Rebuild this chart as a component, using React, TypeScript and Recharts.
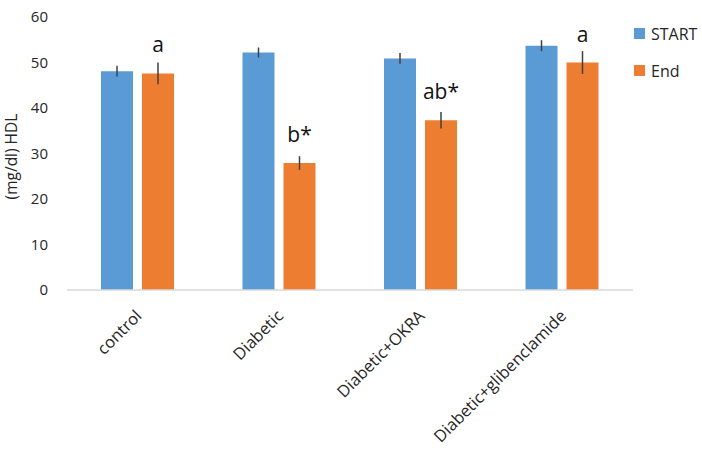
import React from "react";
import {
    BarChart,
    Bar,
    XAxis,
    YAxis,
    ErrorBar,
    LabelList,
    Legend,
} from "recharts";

const categories = ["control", "Diabetic", "Diabetic+OKRA", "Diabetic+glibenclamide"];
const startValues = [48.1, 52.2, 50.9, 53.7];
const startErrors = [1.2, 1.1, 1.2, 1.2];
const endValues = [47.6, 27.9, 37.3, 50.0];
const endErrors = [2.4, 1.5, 1.8, 2.5];
const endLetters = ["a", "b*", "ab*", "a"];
const yTicks = [0, 10, 20, 30, 40, 50, 60];

const FONT = "'Open Sans', sans-serif";
const BLUE = "#5B9BD5";
const ORANGE = "#ED7D31";

const data = categories.map((name, i) => ({
    name,
    start: startValues[i],
    startErr: startErrors[i],
    end: endValues[i],
    endErr: endErrors[i],
    letter: endLetters[i],
}));

function CategoryTick(props: any) {
    const { x, y, payload } = props;
    const ax = x + 5;
    const ay = y + 27;
    return (
        <text
            x={ax}
            y={ay}
            transform={`rotate(-45, ${ax}, ${ay})`}
            textAnchor="end"
            fontSize={16.5}
            fontFamily={FONT}
            fill="#262626"
        >
            {payload.value}
        </text>
    );
}

function LegendBox(props: any) {
    const items = [
        { label: "START", color: BLUE },
        { label: "End", color: ORANGE },
    ];
    return (
        <div style={{ fontFamily: FONT, fontSize: 16, color: "#262626" }}>
            {items.map((it) => (
                <div
                    key={it.label}
                    style={{ height: 37, display: "flex", alignItems: "center" }}
                >
                    <span
                        style={{
                            display: "inline-block",
                            width: 11,
                            height: 11,
                            marginLeft: 1,
                            marginRight: 6,
                            background: it.color,
                        }}
                    />
                    {it.label}
                </div>
            ))}
        </div>
    );
}

export default function App() {
    return (
        <div style={{ position: "absolute", left: 0, top: 0, width: 702, height: 450, background: "#fff" }}>
            <BarChart
                width={702}
                height={450}
                data={data}
                margin={{ top: 17, right: 0, bottom: 0, left: 7 }}
                barSize={32}
                barGap={9}
            >
                <XAxis
                    dataKey="name"
                    height={160}
                    interval={0}
                    tickLine={false}
                    tickSize={0}
                    tickMargin={0}
                    axisLine={{ stroke: "#d9d9d9", strokeWidth: 1.5 }}
                    tick={<CategoryTick />}
                />
                <YAxis
                    width={60}
                    domain={[0, 60]}
                    ticks={yTicks}
                    axisLine={false}
                    tickLine={false}
                    tickSize={0}
                    tickMargin={19}
                    tick={{ fontSize: 15, fontFamily: FONT, fill: "#262626" }}
                    label={{
                        content: (p: any) => {
                            const vb = p.viewBox;
                            const lx = vb.x + 10;
                            const ly = vb.y + vb.height / 2 + 3;
                            return (
                                <text
                                    x={lx}
                                    y={ly}
                                    transform={`rotate(-90, ${lx}, ${ly})`}
                                    textAnchor="middle"
                                    fontSize={15.5}
                                    fontFamily={FONT}
                                    fill="#262626"
                                >
                                    (mg/dl) HDL
                                </text>
                            );
                        },
                    }}
                />
                <Legend
                    layout="vertical"
                    align="right"
                    verticalAlign="top"
                    wrapperStyle={{ left: 633, top: 15, width: 69 }}
                    content={<LegendBox />}
                />
                <Bar dataKey="start" name="START" fill={BLUE} isAnimationActive={false}>
                    <ErrorBar dataKey="startErr" width={0} stroke="#404040" strokeWidth={1.5} direction="y" />
                </Bar>
                <Bar dataKey="end" name="End" fill={ORANGE} isAnimationActive={false}>
                    <ErrorBar dataKey="endErr" width={0} stroke="#404040" strokeWidth={1.5} direction="y" />
                    <LabelList
                        dataKey="letter"
                        position="top"
                        offset={21}
                        fontSize={21}
                        fontFamily={FONT}
                        fill="#111"
                    />
                </Bar>
            </BarChart>
        </div>
    );
}
